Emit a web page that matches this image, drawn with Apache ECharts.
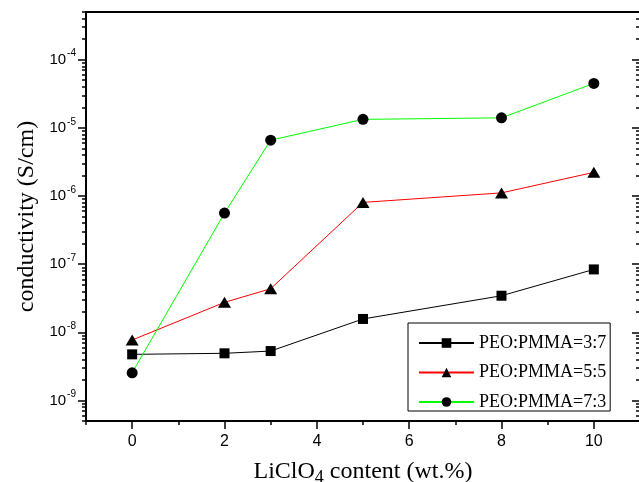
<!DOCTYPE html>
<html><head><meta charset="utf-8">
<script src="https://cdn.jsdelivr.net/npm/echarts@6/dist/echarts.min.js"></script>
<style>html,body{margin:0;padding:0;background:#fff}#c{width:639px;height:482px}</style>
</head><body><div id="c"></div>
<script>
// ---- data ----
const licloContent = [0, 2, 3, 5, 8, 10];
const seriesNames = ['PEO:PMMA=3:7', 'PEO:PMMA=5:5', 'PEO:PMMA=7:3'];
const peoPmma37 = [4.75e-9, 4.92e-9, 5.31e-9, 1.57e-8, 3.44e-8, 8.37e-8];
const peoPmma55 = [7.71e-9, 2.75e-8, 4.36e-8, 8.05e-7, 1.11e-6, 2.22e-6];
const peoPmma73 = [2.55e-9, 5.61e-7, 6.59e-6, 1.33e-5, 1.40e-5, 4.48e-5];
const xTickLabels = [0, 2, 4, 6, 8, 10];
const xMinorTicks = [-1, 1, 3, 5, 7, 9, 11];
const yTickLabels = [1e-9, 1e-8, 1e-7, 1e-6, 1e-5, 1e-4];
const yMin = 5e-10, yMax = 5e-4;

const yMinorTicks = [];
for (let d = -10; d <= -4; d++) {
  for (let m = 2; m <= 9; m++) {
    const v = parseFloat((m * Math.pow(10, d)).toPrecision(3));
    if (v >= yMin && v <= yMax) yMinorTicks.push(v);
  }
}

const pairs = arr => licloContent.map((x, i) => [x, arr[i]]);
const black = '#000';
const tickFont = 'Liberation Sans, Arial, sans-serif';
const serif = 'Liberation Serif, Times New Roman, serif';

const chart = echarts.init(document.getElementById('c'), null, {renderer: 'canvas'});

const baseY = {
  type: 'log', min: yMin, max: yMax, logBase: 10,
  splitLine: {show: false}, minorSplitLine: {show: false}
};
const baseX = {
  type: 'value', min: -1, max: 11,
  splitLine: {show: false}
};

const option = {
  animation: false,
  backgroundColor: '#fff',
  grid: {left: 86, top: 12, right: -1, bottom: 61, containLabel: false, outerBoundsMode: 'none'},
  xAxis: [
    Object.assign({}, baseX, {
      position: 'bottom',
      axisLine: {show: true, onZero: false, lineStyle: {color: black, width: 2}},
      axisTick: {show: true, inside: false, length: 8, lineStyle: {color: black, width: 1.5}, customValues: xTickLabels},
      axisLabel: {show: true, customValues: xTickLabels, color: black, fontFamily: tickFont, fontSize: 16, margin: 13},
      name: 'LiClO{sub|4} content (wt.%)',
      nameLocation: 'middle', nameGap: 36,
      nameTextStyle: {
        fontFamily: serif, fontSize: 24, color: black,
        rich: {sub: {fontFamily: serif, fontSize: 18, color: black, padding: [12, 0, 0, 0]}}
      }
    }),
    Object.assign({}, baseX, {
      position: 'bottom',
      axisLine: {show: false, onZero: false},
      axisTick: {show: true, inside: false, length: 4, lineStyle: {color: black, width: 1.5}, customValues: xMinorTicks},
      axisLabel: {show: false}
    }),
    Object.assign({}, baseX, {
      position: 'top',
      axisLine: {show: true, onZero: false, lineStyle: {color: black, width: 2}},
      axisTick: {show: false},
      axisLabel: {show: false}
    })
  ],
  yAxis: [
    Object.assign({}, baseY, {
      position: 'left',
      axisLine: {show: true, onZero: false, lineStyle: {color: black, width: 2}},
      axisTick: {show: true, inside: false, length: 8, lineStyle: {color: black, width: 1.5}, customValues: yTickLabels},
      axisLabel: {
        show: true, customValues: yTickLabels, margin: 10,
        formatter: v => '{b|10}{s|' + Math.round(Math.log10(v)) + '}',
        rich: {
          b: {fontFamily: tickFont, fontSize: 15, color: black},
          s: {fontFamily: tickFont, fontSize: 10, color: black, padding: [0, 0, 12, 1]}
        }
      },
      name: 'conductivity (S/cm)', nameLocation: 'middle', nameGap: 44, nameRotate: 90,
      nameTextStyle: {fontFamily: serif, fontSize: 24, color: black}
    }),
    Object.assign({}, baseY, {
      position: 'left',
      axisLine: {show: false, onZero: false},
      axisTick: {show: true, inside: false, length: 4, lineStyle: {color: black, width: 1.5}, customValues: yMinorTicks},
      axisLabel: {show: false}
    }),
    Object.assign({}, baseY, {
      position: 'right',
      axisLine: {show: true, onZero: false, lineStyle: {color: black, width: 2}},
      axisTick: {show: true, inside: true, length: 8, lineStyle: {color: black, width: 1.5}, customValues: yTickLabels},
      axisLabel: {show: false}
    }),
    Object.assign({}, baseY, {
      position: 'right',
      axisLine: {show: false, onZero: false},
      axisTick: {show: true, inside: true, length: 4, lineStyle: {color: black, width: 1.5}, customValues: yMinorTicks},
      axisLabel: {show: false}
    })
  ],
  legend: {
    orient: 'vertical', left: 408, top: 323,
    data: seriesNames,
    itemWidth: 55, itemHeight: 12, itemGap: 11.5, itemTextGap: 6,
    padding: [11, 4, 0, 10],
    borderColor: black, borderWidth: 1, backgroundColor: '#fff',
    textStyle: {fontFamily: serif, fontSize: 18, color: black}
  },
  series: [
    {name: seriesNames[0], type: 'line', data: pairs(peoPmma37), symbol: 'rect', symbolSize: 10,
     itemStyle: {color: black}, lineStyle: {color: '#000', width: 1}, z: 3},
    {name: seriesNames[1], type: 'line', data: pairs(peoPmma55), symbol: 'triangle', symbolSize: [13, 11],
     itemStyle: {color: black}, lineStyle: {color: '#ff0000', width: 1}, z: 3},
    {name: seriesNames[2], type: 'line', data: pairs(peoPmma73), symbol: 'circle', symbolSize: 11,
     itemStyle: {color: black}, lineStyle: {color: '#00ff00', width: 1}, z: 3}
  ]
};
chart.setOption(option);
</script>
</body></html>
